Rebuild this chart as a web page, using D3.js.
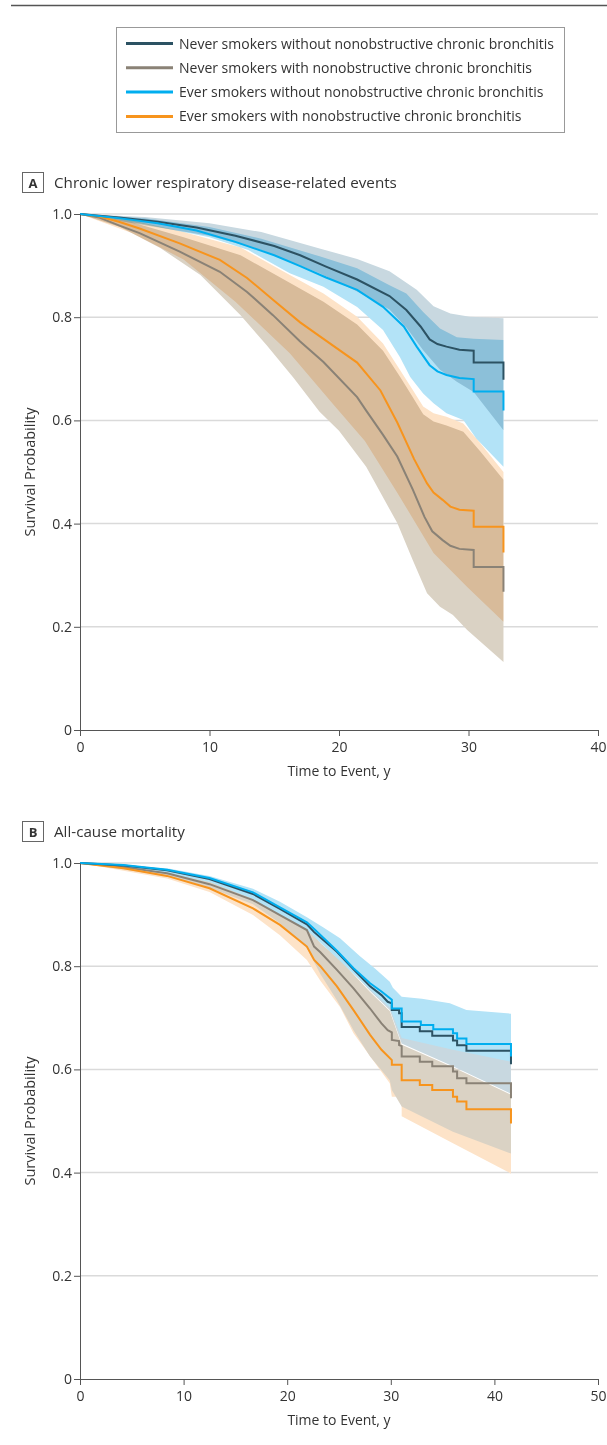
<!DOCTYPE html>
<html>
<head>
<meta charset="utf-8">
<script src="https://cdn.jsdelivr.net/npm/d3@7"></script>
<style>
  body { margin: 0; background: #fff; }
  svg { display: block; font-family: "Open Sans", Roboto, sans-serif; }
</style>
</head>
<body>
<div id="chart"></div>
<script>
// series: 0 never/without, 1 never/with, 2 ever/without, 3 ever/with
var seriesLabels = [
  "Never smokers without nonobstructive chronic bronchitis",
  "Never smokers with nonobstructive chronic bronchitis",
  "Ever smokers without nonobstructive chronic bronchitis",
  "Ever smokers with nonobstructive chronic bronchitis"
];

var yTicks = [0, 0.2, 0.4, 0.6, 0.8, 1.0];
var yTickLabels = ["0", "0.2", "0.4", "0.6", "0.8", "1.0"];
var xTicksA = [0, 10, 20, 30, 40];
var xTicksB = [0, 10, 20, 30, 40, 50];

// Panel A - chronic lower respiratory disease-related events, [years, survival]
var neverNoA = [[0,1],[3,0.993],[6,0.985],[9,0.974],[12,0.958],[15,0.938],[17,0.92],[19,0.898],[21.4,0.873],[23.9,0.841],[25.2,0.814],[26.3,0.782],[27,0.757],[27.6,0.748],[28.3,0.743],[29.3,0.737],[30.4,0.735],[30.4,0.712],[32.7,0.712],[32.7,0.679]];
var neverWithA = [[0,1],[1.5,0.993],[3,0.978],[4.6,0.963],[7.7,0.927],[10.8,0.888],[12.9,0.849],[14.9,0.804],[17,0.753],[18.8,0.713],[21.4,0.645],[22.1,0.619],[23.4,0.572],[24.5,0.53],[25.7,0.466],[26.6,0.413],[27.2,0.385],[28,0.368],[28.6,0.357],[29.3,0.351],[30.4,0.349],[30.4,0.316],[32.7,0.316],[32.7,0.268]];
var everNoA = [[0,1],[3,0.992],[6,0.982],[9,0.968],[12,0.946],[15,0.92],[17,0.899],[19,0.877],[21.4,0.853],[23.4,0.82],[25,0.782],[26,0.743],[27,0.707],[27.6,0.695],[28.3,0.688],[29.3,0.682],[30.4,0.68],[30.4,0.656],[32.7,0.656],[32.7,0.619]];
var everWithA = [[0,1],[1.5,0.995],[3,0.985],[4.6,0.972],[7.7,0.943],[10.8,0.911],[12.9,0.876],[14.9,0.834],[17,0.79],[18.8,0.758],[21.4,0.712],[23.2,0.658],[24.5,0.596],[25.8,0.525],[26.8,0.478],[27.3,0.46],[28,0.446],[28.6,0.433],[29.3,0.427],[30.4,0.425],[30.4,0.394],[32.7,0.394],[32.7,0.344]];

// Panel A confidence bands, upper and lower edges
var neverNoUpA = [[0,1],[5,0.994],[10,0.982],[14,0.965],[18.5,0.933],[21.4,0.913],[23.9,0.889],[26,0.853],[27.3,0.821],[28.6,0.807],[30.1,0.801],[32.7,0.798]];
var neverNoLoA = [[0,1],[5,0.978],[10,0.958],[14,0.93],[18.5,0.885],[21.4,0.85],[23.9,0.815],[25.2,0.78],[26.5,0.736],[27.8,0.698],[29.1,0.675],[30.4,0.655],[32.7,0.581]];
var neverWithUpA = [[0,1],[4,0.984],[8,0.955],[12.4,0.92],[15.4,0.878],[18.8,0.83],[21.4,0.786],[23.4,0.735],[24.7,0.685],[25.7,0.645],[26.5,0.612],[27.3,0.598],[28.3,0.59],[29.6,0.578],[30.9,0.54],[32.7,0.485]];
var neverWithLoA = [[0,1],[3.1,0.975],[6.2,0.934],[9.3,0.882],[12.4,0.804],[14.4,0.746],[16.5,0.682],[18.5,0.617],[20,0.58],[22.1,0.51],[24.5,0.401],[25.7,0.329],[26.8,0.265],[27.8,0.239],[28.8,0.223],[29.9,0.194],[32.7,0.132]];
var everNoUpA = [[0,1],[5,0.992],[10,0.975],[14,0.952],[18.5,0.918],[21.4,0.895],[23.9,0.862],[25.2,0.846],[26.5,0.81],[27.8,0.778],[29.1,0.761],[30.4,0.758],[32.7,0.756]];
var everNoLoA = [[0,1],[5,0.98],[10,0.955],[13,0.93],[16.2,0.885],[18.8,0.859],[21.4,0.82],[23.4,0.775],[24.7,0.723],[25.5,0.684],[26.5,0.652],[27.3,0.633],[28.3,0.614],[29.6,0.601],[30.6,0.565],[32.7,0.51]];
var everWithUpA = [[0,1],[4,0.988],[8,0.965],[12.4,0.935],[15.4,0.893],[18.8,0.846],[21.4,0.801],[23.4,0.749],[24.7,0.698],[25.7,0.659],[26.5,0.627],[27.3,0.614],[28.3,0.607],[29.6,0.594],[30.9,0.556],[32.7,0.5]];
var everWithLoA = [[0,1],[4,0.963],[8,0.912],[12,0.83],[16.2,0.73],[19.6,0.63],[22,0.56],[24.5,0.46],[27.3,0.343],[29.9,0.277],[32.7,0.21]];

// Panel B - all-cause mortality
var neverNoB = [[0,1],[4.2,0.995],[8.4,0.986],[12.5,0.969],[16.7,0.94],[19.3,0.911],[21.9,0.881],[22.6,0.866],[24.8,0.828],[26.4,0.794],[28,0.761],[29.1,0.744],[29.7,0.731],[30.1,0.728],[30.1,0.715],[30.8,0.715],[30.8,0.709],[31.05,0.709],[31.05,0.682],[32.8,0.682],[32.8,0.674],[34,0.674],[34,0.665],[36,0.665],[36,0.656],[36.4,0.656],[36.4,0.647],[37.3,0.647],[37.3,0.636],[41.6,0.636],[41.6,0.61]];
var neverWithB = [[0,1],[4.2,0.992],[8.4,0.98],[12.5,0.959],[16.7,0.928],[19.3,0.899],[21.9,0.87],[22.6,0.838],[23.2,0.827],[24.8,0.793],[26.4,0.757],[28,0.718],[29.1,0.689],[29.7,0.676],[30.1,0.672],[30.1,0.657],[30.8,0.655],[30.8,0.647],[31.05,0.645],[31.05,0.625],[32.8,0.625],[32.8,0.615],[34,0.615],[34,0.606],[36,0.606],[36,0.596],[36.4,0.596],[36.4,0.583],[37.3,0.583],[37.3,0.573],[41.6,0.573],[41.6,0.544]];
var everNoB = [[0,1],[4.2,0.996],[8.4,0.987],[12.5,0.971],[16.7,0.943],[19.3,0.914],[21.9,0.885],[22.6,0.872],[24.8,0.83],[26.4,0.796],[28,0.767],[29.1,0.751],[30.1,0.735],[30.1,0.718],[31.05,0.718],[31.05,0.693],[32.9,0.693],[32.9,0.686],[34.1,0.686],[34.1,0.678],[36,0.678],[36,0.67],[36.4,0.67],[36.4,0.66],[37.3,0.66],[37.3,0.649],[41.6,0.649],[41.6,0.625]];
var everWithB = [[0,1],[4.2,0.99],[8.4,0.975],[12.5,0.951],[16.7,0.912],[19.3,0.88],[21.9,0.838],[22.6,0.812],[23.2,0.8],[24.8,0.761],[26.4,0.715],[28,0.667],[29.1,0.638],[30.1,0.618],[30.1,0.609],[31.05,0.609],[31.05,0.579],[32.8,0.579],[32.8,0.57],[34,0.57],[34,0.56],[36,0.56],[36,0.547],[36.4,0.547],[36.4,0.538],[37.3,0.538],[37.3,0.523],[41.6,0.523],[41.6,0.495]];

var neverNoUpB = [[0,1],[8.4,0.988],[12.5,0.973],[16.7,0.946],[19.3,0.92],[21.9,0.89],[25.1,0.845],[28,0.79],[29.9,0.755],[31,0.73],[36,0.715],[41.6,0.7]];
var neverNoLoB = [[0,1],[8.4,0.982],[12.5,0.965],[16.7,0.933],[19.3,0.902],[21.9,0.872],[25.1,0.815],[28,0.752],[29.9,0.715],[31.05,0.65],[36,0.606],[41.6,0.553]];
var neverWithUpB = [[0,1],[8.4,0.983],[12.5,0.964],[16.7,0.934],[19.3,0.905],[21.9,0.876],[23.2,0.845],[25.1,0.812],[28,0.75],[29.9,0.713],[31.05,0.648],[36,0.604],[41.6,0.551]];
var neverWithLoB = [[0,1],[8.4,0.975],[12.5,0.952],[16.7,0.92],[19.3,0.883],[21.9,0.835],[23.2,0.785],[24.8,0.734],[26.4,0.676],[28,0.625],[29.9,0.579],[30.1,0.56],[31.05,0.528],[36,0.479],[41.6,0.437]];
var everNoUpB = [[0,1],[8.4,0.99],[12.5,0.975],[16.7,0.95],[19.3,0.925],[21.9,0.895],[23.5,0.875],[25.1,0.854],[27,0.82],[28.5,0.795],[29.9,0.77],[30.2,0.758],[31.05,0.741],[33,0.737],[35.7,0.728],[37.3,0.715],[41.6,0.708]];
var everNoLoB = [[0,1],[8.4,0.98],[12.5,0.963],[16.7,0.93],[19.3,0.9],[21.9,0.87],[25.1,0.81],[28,0.755],[29.9,0.72],[31.05,0.661],[36,0.638],[41.6,0.615]];
var everWithUpB = [[0,1],[8.4,0.98],[12.5,0.958],[16.7,0.925],[19.3,0.897],[21.9,0.86],[23.2,0.82],[26.4,0.74],[29.9,0.645],[31.05,0.61],[36,0.585],[41.6,0.55]];
var everWithLoB = [[0,1],[8.4,0.97],[12.5,0.944],[16.7,0.899],[19.3,0.86],[21.9,0.812],[23.2,0.772],[25.1,0.721],[26.4,0.67],[29.9,0.573],[30.1,0.547],[31.05,0.547],[31.05,0.509],[36,0.457],[41.6,0.398]];

var lineColors = ["#2c5263", "#8a8276", "#00aeef", "#f7941d"];
var bandColors = ["#c8d8e0", "#dad2c4", "#b3e3f7", "#fde3c8"];
var drawOrder = [1, 3, 0, 2];

function panel(svg, cfg)
{
  var x = d3.scaleLinear().domain([0, cfg.xMax]).range([80, 598]);
  var y = d3.scaleLinear().domain([0, 1]).range([cfg.y0, cfg.y0 - 516]);

  // gridlines
  svg.append("g").selectAll("line")
    .data(yTicks.slice(1))
    .enter()
    .append("line")
      .attr("x1", 80)
      .attr("x2", 598)
      .attr("y1", function(d) {return y(d);})
      .attr("y2", function(d) {return y(d);})
      .style("stroke", "#dadada")
      .style("stroke-width", 1.5);

  var line = d3.line()
    .x(function(d) {return x(d[0]);})
    .y(function(d) {return y(d[1]);});

  // confidence bands
  var bandG = svg.append("g").style("isolation", "isolate");
  cfg.bandOrder.forEach(function(i) {
    var b = cfg.bands[i];
    var pts = b[0].concat(b[1].slice().reverse());
    bandG.append("path")
      .attr("d", line(pts) + "Z")
      .style("fill", bandColors[i])
      .style("mix-blend-mode", cfg.blend);
  });

  // survival curves
  drawOrder.forEach(function(i) {
    svg.append("path")
      .datum(cfg.lines[i])
      .attr("d", line)
      .style("fill", "none")
      .style("stroke", lineColors[i])
      .style("stroke-width", 2);
  });

  var xAxis = d3.axisBottom(x)
    .tickValues(cfg.xTicks)
    .tickSize(6)
    .tickSizeOuter(0)
    .tickPadding(6);

  var yAxis = d3.axisLeft(y)
    .tickValues(yTicks)
    .tickFormat(function(d, i) {return yTickLabels[i];})
    .tickSize(6)
    .tickSizeOuter(0)
    .tickPadding(2);

  var gx = svg.append("g")
    .attr("transform", "translate(0," + cfg.y0 + ")")
    .call(xAxis);

  var gy = svg.append("g")
    .attr("transform", "translate(80,0)")
    .call(yAxis);

  [gx, gy].forEach(function(a) {
    a.attr("font-family", null).attr("font-size", null);
    a.selectAll("path, line").style("stroke", "#555").style("stroke-width", 1);
    a.selectAll("text").style("fill", "#333").style("font-size", "14px");
  });

  svg.append("text")
    .attr("x", 339)
    .attr("y", cfg.y0 + 46)
    .style("text-anchor", "middle")
    .style("font-size", "14px")
    .style("fill", "#333")
    .text("Time to Event, y");

  svg.append("text")
    .attr("transform", "translate(35," + (cfg.y0 - 258) + ") rotate(-90)")
    .style("text-anchor", "middle")
    .style("font-size", "14.5px")
    .style("fill", "#333")
    .text("Survival Probability");

  // panel letter and title
  svg.append("rect")
    .attr("x", 22.5)
    .attr("y", cfg.y0 - 557.5)
    .attr("width", 21)
    .attr("height", 20)
    .style("fill", "none")
    .style("stroke", "#666")
    .style("stroke-width", 1);

  svg.append("text")
    .attr("x", 33)
    .attr("y", cfg.y0 - 542)
    .style("text-anchor", "middle")
    .style("font-weight", "bold")
    .style("font-size", "13px")
    .style("fill", "#333")
    .text(cfg.letter);

  svg.append("text")
    .attr("x", 54)
    .attr("y", cfg.y0 - 542)
    .style("font-size", "15.2px")
    .style("fill", "#333")
    .text(cfg.title);
}

function init()
{
  var svg = d3.select("#chart")
    .append("svg")
    .attr("width", 607)
    .attr("height", 1445);

  svg.append("line")
    .attr("x1", 11)
    .attr("x2", 607)
    .attr("y1", 5.5)
    .attr("y2", 5.5)
    .style("stroke", "#555")
    .style("stroke-width", 1.5);

  // legend
  var legend = svg.append("g");

  legend.append("rect")
    .attr("x", 116.5)
    .attr("y", 27.5)
    .attr("width", 448)
    .attr("height", 105)
    .style("fill", "none")
    .style("stroke", "#999")
    .style("stroke-width", 1);

  var rows = legend.selectAll(".row")
    .data(seriesLabels)
    .enter()
    .append("g")
      .attr("transform", function(d, i) {return "translate(0," + (43.5 + i * 24.3) + ")";});

  rows.append("line")
    .attr("x1", 126)
    .attr("x2", 173)
    .style("stroke", function(d, i) {return lineColors[i];})
    .style("stroke-width", 3);

  rows.append("text")
    .attr("x", 179)
    .attr("y", 5)
    .style("font-size", "14px")
    .style("fill", "#333")
    .text(function(d) {return d;});

  panel(svg, {
    y0: 730,
    xMax: 40,
    xTicks: xTicksA,
    letter: "A",
    title: "Chronic lower respiratory disease-related events",
    lines: [neverNoA, neverWithA, everNoA, everWithA],
    bands: [[neverNoUpA, neverNoLoA], [neverWithUpA, neverWithLoA], [everNoUpA, everNoLoA], [everWithUpA, everWithLoA]],
    bandOrder: [1, 3, 0, 2],
    blend: "multiply"
  });

  panel(svg, {
    y0: 1379,
    xMax: 50,
    xTicks: xTicksB,
    letter: "B",
    title: "All-cause mortality",
    lines: [neverNoB, neverWithB, everNoB, everWithB],
    bands: [[neverNoUpB, neverNoLoB], [neverWithUpB, neverWithLoB], [everNoUpB, everNoLoB], [everWithUpB, everWithLoB]],
    bandOrder: [3, 1, 0, 2],
    blend: "normal"
  });
}

init();
</script>
</body>
</html>
